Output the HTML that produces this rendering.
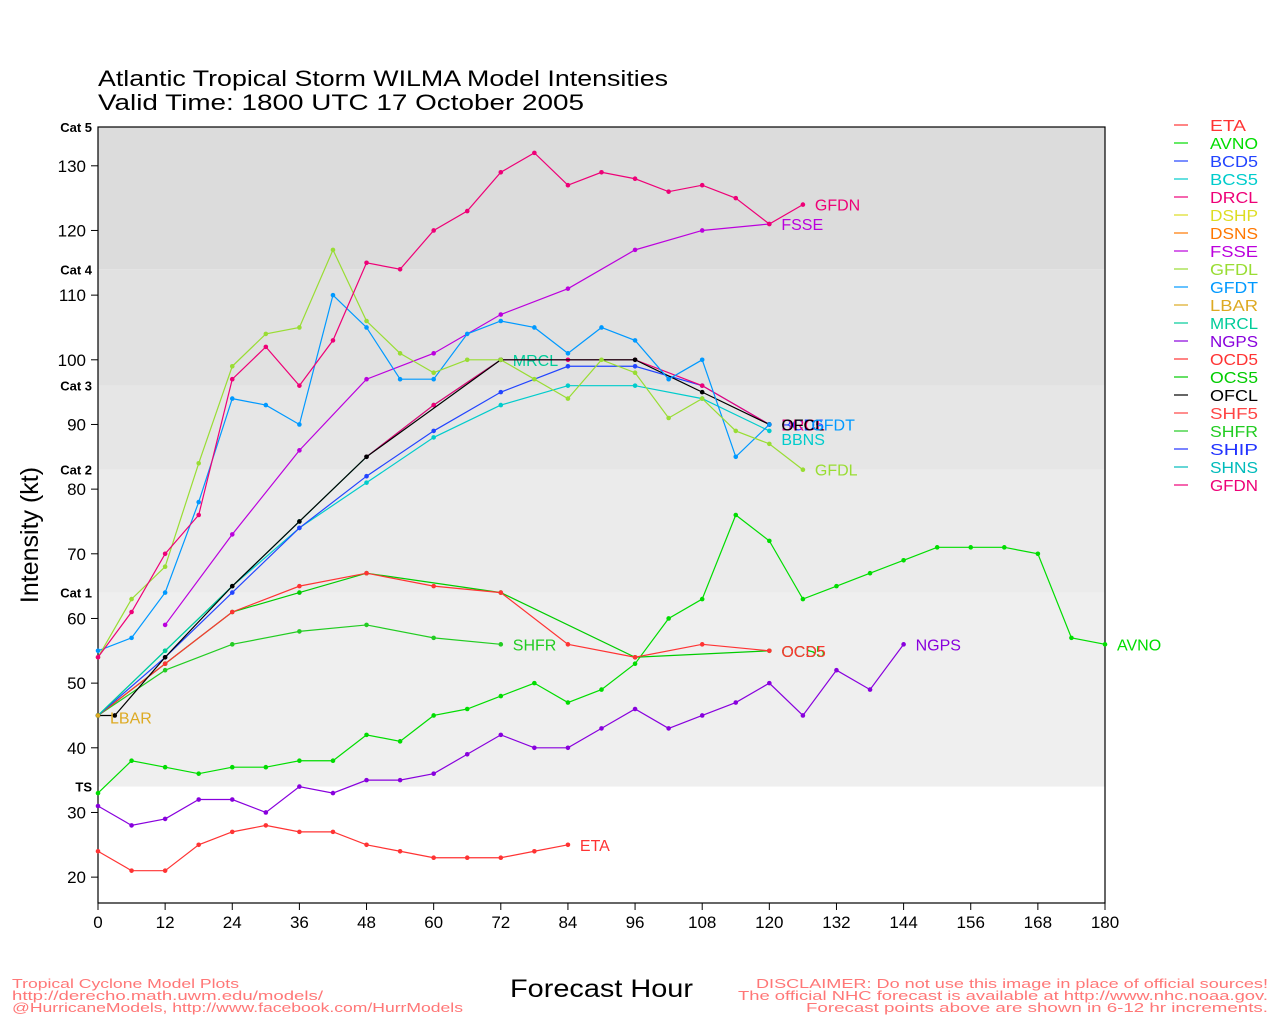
<!DOCTYPE html>
<html><head><meta charset="utf-8"><style>
body{margin:0;background:#fff;font-family:"Liberation Sans",sans-serif}
svg text{font-family:"Liberation Sans",sans-serif}
</style></head><body>
<svg id="c" width="1280" height="1024" xmlns="http://www.w3.org/2000/svg"></svg>
<script>
const xTicks=[0,12,24,36,48,60,72,84,96,108,120,132,144,156,168,180];
const yTicks=[20,30,40,50,60,70,80,90,100,110,120,130];
const catNames=["TS","Cat 1","Cat 2","Cat 3","Cat 4","Cat 5"];
const catVals=[34,64,83,96,114,136];
const catFills=["#efefef","#ebebeb","#e6e6e6","#e1e1e1","#dcdcdc"];
const models=["ETA","AVNO","BCD5","BCS5","DRCL","DSHP","DSNS","FSSE","GFDL","GFDT","LBAR","MRCL","NGPS","OCD5","OCS5","OFCL","SHF5","SHFR","SHIP","SHNS","GFDN"];
const colors=["#ff3333","#00dd00","#2244ff","#00cccc","#ee0077","#dddd22","#ff7700","#bb00dd","#99dd33","#0099ff","#ddaa22","#00cc99","#8800dd","#ff3333","#00cc00","#000000","#ff4444","#22cc22","#2233ff","#00bbbb","#ee0077"];
const hETA=[0,6,12,18,24,30,36,42,48,54,60,66,72,78,84];
const vETA=[24,21,21,25,27,28,27,27,25,24,23,23,23,24,25];
const hAVNO=[0,6,12,18,24,30,36,42,48,54,60,66,72,78,84,90,96,102,108,114,120,126,132,138,144,150,156,162,168,174,180];
const vAVNO=[33,38,37,36,37,37,38,38,42,41,45,46,48,50,47,49,53,60,63,76,72,63,65,67,69,71,71,71,70,57,56];
const hNGPS=[0,6,12,18,24,30,36,42,48,54,60,66,72,78,84,90,96,102,108,114,120,126,132,138,144];
const vNGPS=[31,28,29,32,32,30,34,33,35,35,36,39,42,40,40,43,46,43,45,47,50,45,52,49,56];
const hSHFR=[0,12,24,36,48,60,72];
const vSHFR=[45,52,56,58,59,57,56];
const hOCD5=[0,12,24,36,48,60,72,84,96,108,120];
const vOCD5=[45,53,61,65,67,65,64,56,54,56,55];
const hOCS5=[0,12,24,36,48,72,96,120];
const vOCS5=[45,53,61,64,67,64,54,55];
const hOFCL=[0,3,12,24,36,48,72,96,108,120];
const vOFCL=[45,45,54,65,75,85,100,100,95,90];
const hDRCL=[48,60,72,84,96,108,120];
const vDRCL=[85,93,100,100,100,96,90];
const hBCD5=[0,12,24,36,48,60,72,84,96,108,120];
const vBCD5=[45,54,64,74,82,89,95,99,99,96,90];
const hBCS5=[0,12,24,36,48,60,72,84,96,108,120];
const vBCS5=[45,55,65,74,81,88,93,96,96,94,89];
const hMRCL=[0,12,24,36,48,60,72];
const vMRCL=[45,55,65,75,85,93,100];
const hGFDT=[0,6,12,18,24,30,36,42,48,54,60,66,72,78,84,90,96,102,108,114,120];
const vGFDT=[55,57,64,78,94,93,90,110,105,97,97,104,106,105,101,105,103,97,100,85,90];
const hGFDL=[0,6,12,18,24,30,36,42,48,54,60,66,72,78,84,90,96,102,108,114,120,126];
const vGFDL=[54,63,68,84,99,104,105,117,106,101,98,100,100,97,94,100,98,91,94,89,87,83];
const hGFDN=[0,6,12,18,24,30,36,42,48,54,60,66,72,78,84,90,96,102,108,114,120,126];
const vGFDN=[54,61,70,76,97,102,96,103,115,114,120,123,129,132,127,129,128,126,127,125,121,124];
const hFSSE=[12,24,36,48,60,72,84,96,108,120];
const vFSSE=[59,73,86,97,101,107,111,117,120,121];
const hLBAR=[0];
const vLBAR=[45];

const X0=98,X1=1105,Y0=903,Y1=127,YMIN=16,YMAX=136;
const sx=h=>X0+(h-0)/180*(X1-X0);
const sy=v=>Y0-(v-YMIN)/(YMAX-YMIN)*(Y0-Y1);
const svg=document.getElementById('c');
const NS="http://www.w3.org/2000/svg";
function mk(t,a,p){const e=document.createElementNS(NS,t);for(const k in a)e.setAttribute(k,a[k]);(p||svg).appendChild(e);return e;}
function txt(s,a){const e=mk('text',a);e.textContent=s;return e;}

for(let i=0;i<catFills.length;i++){
 const r=mk('rect',{x:X0,y:sy(catVals[i+1]),width:X1-X0,height:sy(catVals[i])-sy(catVals[i+1]),fill:catFills[i]});
 
 
}
catNames.forEach((n,i)=>{
 const t=txt(n,{x:92,y:sy(catVals[i])+5,'font-size':13,'font-weight':'bold','text-anchor':'end'});
 
 
});
const fr=mk('rect',{x:X0,y:Y1,width:X1-X0,height:Y0-Y1,fill:'none',stroke:'#000','stroke-width':1.2});



xTicks.forEach(h=>{
 mk('line',{x1:sx(h),x2:sx(h),y1:Y0,y2:Y0+7,stroke:'#000'});
 const t=txt(h,{x:sx(h),y:Y0+25,'font-size':17,'text-anchor':'middle'});
 
 
});
yTicks.forEach(v=>{
 mk('line',{x1:X0-7,x2:X0,y1:sy(v),y2:sy(v),stroke:'#000'});
 const t=txt(v,{x:X0-12,y:sy(v)+6,'font-size':17,'text-anchor':'end'});
 
 
});

const series=[
 ["ETA",hETA,vETA],["AVNO",hAVNO,vAVNO],["NGPS",hNGPS,vNGPS],["SHFR",hSHFR,vSHFR],
 ["OCS5",hOCS5,vOCS5],["OCD5",hOCD5,vOCD5],["BCS5",hBCS5,vBCS5],["BCD5",hBCD5,vBCD5],
 ["MRCL",hMRCL,vMRCL],["DRCL",hDRCL,vDRCL],["OFCL",hOFCL,vOFCL],["FSSE",hFSSE,vFSSE],
 ["GFDT",hGFDT,vGFDT],["GFDL",hGFDL,vGFDL],["GFDN",hGFDN,vGFDN],["LBAR",hLBAR,vLBAR]];
const labelOff={GFDT:30,BCS5:0,OCS5:0};
series.forEach(([n,hs,vs])=>{
 const c=colors[models.indexOf(n)];
 const g=mk('g',{});
 
 
 if(hs.length>1)mk('polyline',{points:hs.map((h,i)=>sx(h)+','+sy(vs[i])).join(' '),fill:'none',stroke:c,'stroke-width':1.2},g);
 hs.forEach((h,i)=>mk('circle',{cx:sx(h),cy:sy(vs[i]),r:2.3,fill:c},g));
 const L=hs.length-1;
 const lx=sx(hs[L])+12+(labelOff[n]||0), ly=sy(vs[L])+6+(n=="BCS5"?8:0)+(n=="LBAR"?2:0);
 const t=txt(n=="BCS5"?"BBNS":n,{x:lx,y:ly,'font-size':16,fill:c});
 
 
});

models.forEach((n,i)=>{
 const y=125+i*18;
 const g=mk('g',{});
 
 
 mk('line',{x1:1174,x2:1188,y1:y,y2:y,stroke:colors[i],'stroke-width':1.2},g);
 const t=mk('text',{x:1210,y:y+6,'font-size':16,fill:colors[i],textLength:n.length*12,lengthAdjust:'spacingAndGlyphs'},g);t.textContent=n;
});

function T(s,a,name){const t=txt(s,a);}
T("Atlantic Tropical Storm WILMA Model Intensities",{x:98,y:86,'font-size':22,textLength:570,lengthAdjust:'spacingAndGlyphs'},'chart-title');
T("Valid Time: 1800 UTC 17 October 2005",{x:98,y:110,'font-size':22,textLength:486,lengthAdjust:'spacingAndGlyphs'},'chart-subtitle');
T("Forecast Hour",{x:510,y:997,'font-size':25,textLength:183,lengthAdjust:'spacingAndGlyphs'},'x-axis-title');
T("Intensity (kt)",{x:38,y:535,'font-size':25,'text-anchor':'middle',transform:'rotate(-90 38 535)'},'y-axis-title');
const fl=["Tropical Cyclone Model Plots","http://derecho.math.uwm.edu/models/","@HurricaneModels, http://www.facebook.com/HurrModels"];
const flw=[227,311,451];
fl.forEach((s,i)=>T(s,{x:12,y:988+i*12,'font-size':13,fill:'#ff7777',textLength:flw[i],lengthAdjust:'spacingAndGlyphs'},'footer-credit'));
const fr2=["DISCLAIMER: Do not use this image in place of official sources!","The official NHC forecast is available at http://www.nhc.noaa.gov.","Forecast points above are shown in 6-12 hr increments."];
const frw=[512,530,462];
fr2.forEach((s,i)=>T(s,{x:1268-frw[i],y:988+i*12,'font-size':13,fill:'#ff7777',textLength:frw[i],lengthAdjust:'spacingAndGlyphs'},'footer-disclaimer'));
</script>
</body></html>
